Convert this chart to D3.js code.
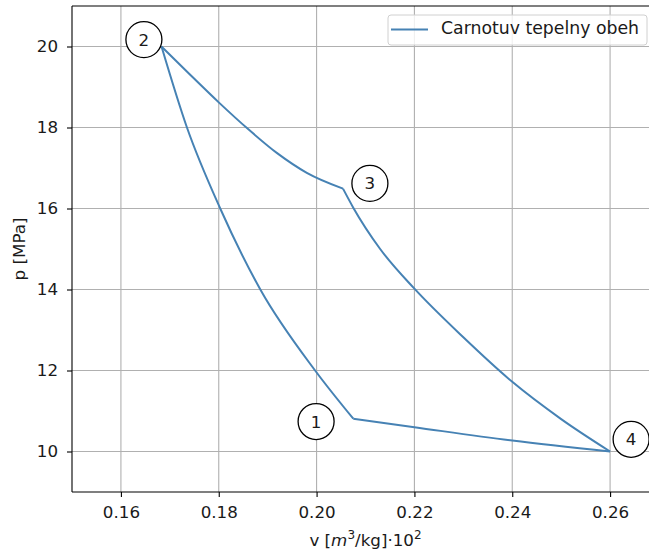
<!DOCTYPE html>
<html>
<head>
<meta charset="utf-8">
<script src="https://cdn.jsdelivr.net/npm/d3@7"></script>
<style>
  body { margin: 0; background: #fff; }
  svg text { font-family: "DejaVu Sans", sans-serif; fill: #1a1a1a; }
</style>
</head>
<body>
<div class="chart"></div>
<script>
// cycle legs (v in m3/kg*10^2, p in MPa)
var leg23V = [0.1683, 0.174, 0.18, 0.186, 0.192, 0.198, 0.2054];
var leg23P = [20.0, 19.32, 18.62, 17.96, 17.36, 16.88, 16.49];
var leg34V = [0.2054, 0.2075, 0.213, 0.22, 0.23, 0.24, 0.25, 0.26];
var leg34P = [16.49, 16.02, 15.0, 14.02, 12.82, 11.72, 10.8, 10.0];
var leg41V = [0.26, 0.24, 0.22, 0.2075];
var leg41P = [10.0, 10.27, 10.6, 10.81];
var leg12V = [0.2075, 0.1997, 0.1885, 0.1803, 0.1735, 0.1683];
var leg12P = [10.81, 12.0, 14.0, 16.0, 18.0, 20.0];

var stateLabels = ["1", "2", "3", "4"];
var labelV = [0.1999, 0.1647, 0.2109, 0.2643];
var labelP = [10.74, 20.17, 16.62, 10.30];

var xTicks = [0.16, 0.18, 0.20, 0.22, 0.24, 0.26];
var yTicks = [10, 12, 14, 16, 18, 20];
var legendText = "Carnotuv tepelny obeh";

var W = 649, H = 554;
var axL = 72, axT = 6, axR = 659, axB = 492;
var fs = "16.7px";

var svg = d3.select(".chart").append("svg")
	.attr("width", W)
	.attr("height", H);

var x = d3.scaleLinear().domain([0.15, 0.27]).range([axL, axR]);
var y = d3.scaleLinear().domain([9, 21]).range([axB, axT]);

// grid
var grid = svg.append("g");
grid.selectAll(".gx").data(xTicks).enter().append("line")
	.attr("x1", function(d) { return x(d); })
	.attr("x2", function(d) { return x(d); })
	.attr("y1", axT).attr("y2", axB)
	.style("stroke", "#b0b0b0").style("stroke-width", 1.1);
grid.selectAll(".gy").data(yTicks).enter().append("line")
	.attr("x1", axL).attr("x2", axR)
	.attr("y1", function(d) { return y(d); })
	.attr("y2", function(d) { return y(d); })
	.style("stroke", "#b0b0b0").style("stroke-width", 1.1);

// axes
var xAxis = d3.axisBottom(x).tickValues(xTicks).tickSize(5).tickPadding(9)
	.tickFormat(d3.format(".2f"));
var yAxis = d3.axisLeft(y).tickValues(yTicks).tickSize(5).tickPadding(9)
	.tickFormat(d3.format("d"));

var gx = svg.append("g").attr("transform", "translate(0," + axB + ")").call(xAxis);
var gy = svg.append("g").attr("transform", "translate(" + axL + ",0)").call(yAxis);
[gx, gy].forEach(function(g) {
	g.select(".domain").remove();
	g.selectAll(".tick line").style("stroke", "#000").style("stroke-width", 1.1);
	g.selectAll(".tick text").style("font-size", fs).style("fill", "#1a1a1a")
		.style("font-family", "DejaVu Sans, sans-serif");
});

// spines
svg.append("line").attr("x1", axL).attr("x2", axL).attr("y1", axT).attr("y2", axB)
	.style("stroke", "#000").style("stroke-width", 1.1);
svg.append("line").attr("x1", axL).attr("x2", axR).attr("y1", axB).attr("y2", axB)
	.style("stroke", "#000").style("stroke-width", 1.1);
svg.append("line").attr("x1", axL).attr("x2", axR).attr("y1", axT).attr("y2", axT)
	.style("stroke", "#000").style("stroke-width", 1.1);

// the cycle
var line = d3.line()
	.x(function(d) { return x(d[0]); })
	.y(function(d) { return y(d[1]); })
	.curve(d3.curveMonotoneX);

var legs = [[leg23V, leg23P], [leg34V, leg34P], [leg41V, leg41P], [leg12V, leg12P]];
legs.forEach(function(leg) {
	var pts = leg[0].map(function(v, i) { return [v, leg[1][i]]; });
	pts.sort(function(a, b) { return a[0] - b[0]; });
	svg.append("path")
		.datum(pts)
		.attr("d", line)
		.style("fill", "none")
		.style("stroke", "#4682b4")
		.style("stroke-width", 2)
		.style("stroke-linejoin", "round");
});

// state labels in circles
var lab = svg.selectAll(".lab").data(stateLabels).enter().append("g")
	.attr("transform", function(d, i) {
		return "translate(" + x(labelV[i]) + "," + y(labelP[i]) + ")";
	});
lab.append("circle")
	.attr("r", 18)
	.style("fill", "#fff")
	.style("stroke", "#000")
	.style("stroke-width", 1.3);
lab.append("text")
	.attr("text-anchor", "middle")
	.attr("dy", "0.36em")
	.style("font-size", fs)
	.text(function(d) { return d; });

// legend
var lg = svg.append("g");
lg.append("rect")
	.attr("x", 388).attr("y", 15).attr("width", 259).attr("height", 30)
	.attr("rx", 3)
	.style("fill", "#fff").style("fill-opacity", 0.8)
	.style("stroke", "#d0d0d0").style("stroke-width", 1);
lg.append("line")
	.attr("x1", 391).attr("x2", 428).attr("y1", 29.5).attr("y2", 29.5)
	.style("stroke", "#4682b4").style("stroke-width", 2);
lg.append("text")
	.attr("x", 441).attr("y", 34)
	.style("font-size", "17.3px")
	.text(legendText);

// axis labels
var xl = svg.append("text")
	.attr("x", (axL + axR) / 2).attr("y", 546)
	.attr("text-anchor", "middle")
	.style("font-size", fs);
xl.append("tspan").text("v [");
xl.append("tspan").style("font-style", "italic").text("m");
xl.append("tspan").attr("dy", -7).style("font-size", "12px").text("3");
xl.append("tspan").attr("dy", 7).text("/kg]\u00b710");
xl.append("tspan").attr("dy", -7).style("font-size", "12px").text("2");

svg.append("text")
	.attr("transform", "translate(24.5," + ((axT + axB) / 2) + ") rotate(-90)")
	.attr("text-anchor", "middle")
	.style("font-size", fs)
	.text("p [MPa]");
</script>
</body>
</html>
